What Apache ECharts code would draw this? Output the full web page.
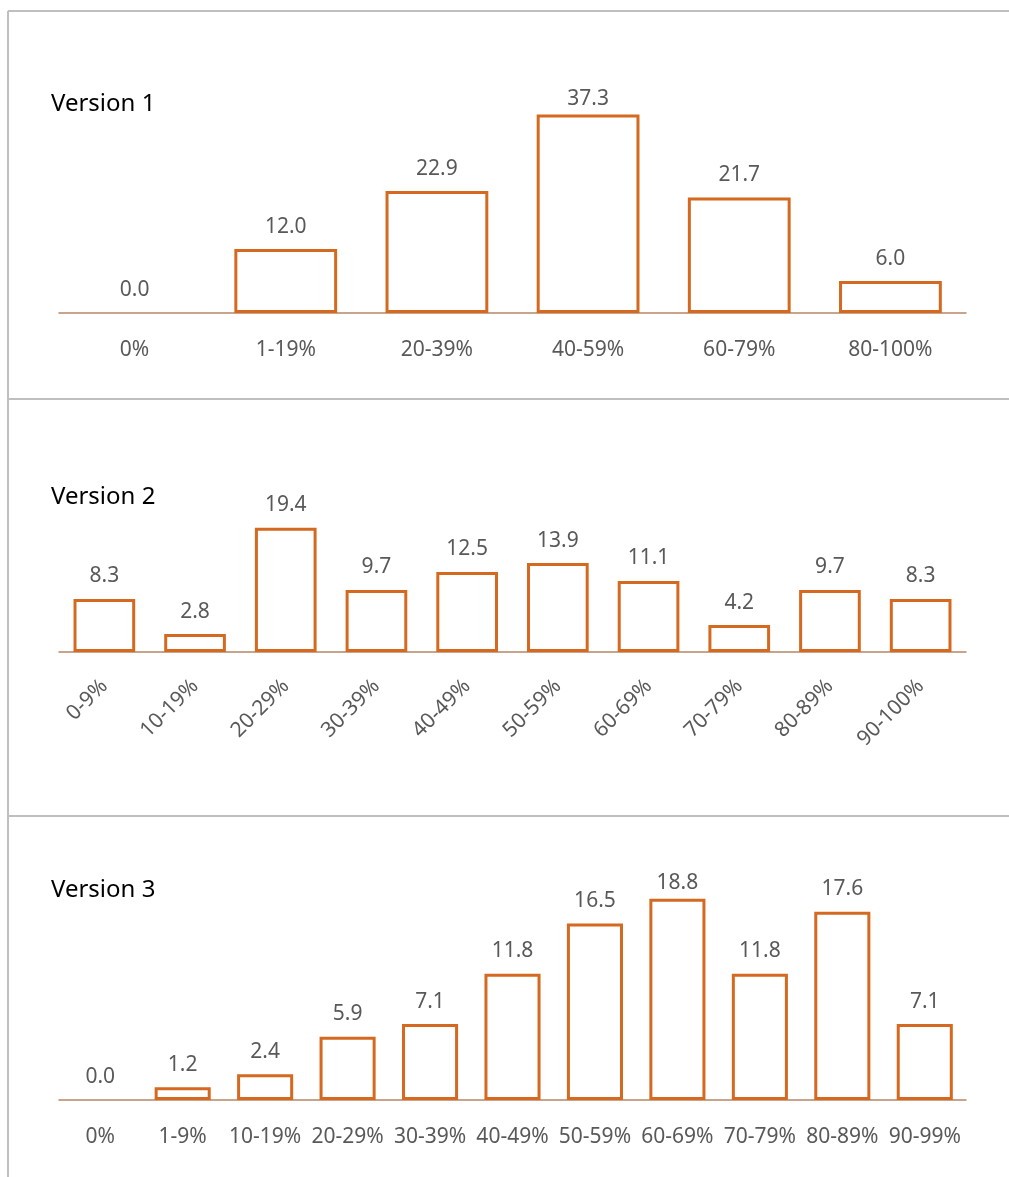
<!DOCTYPE html>
<html>
<head>
<meta charset="utf-8">
<script src="https://cdn.jsdelivr.net/npm/echarts@6/dist/echarts.min.js"></script>
<style>
  html, body { margin: 0; padding: 0; background: #ffffff; }
  #chart { width: 1009px; height: 1177px; }
</style>
</head>
<body>
<div id="chart"></div>
<script>
// Share of respondents per score band, three survey versions
const titles = ['Version 1', 'Version 2', 'Version 3'];

const v1Categories = ['0%', '1-19%', '20-39%', '40-59%', '60-79%', '80-100%'];
const v1Values = [0.0, 12.0, 22.9, 37.3, 21.7, 6.0];

const v2Categories = ['0-9%', '10-19%', '20-29%', '30-39%', '40-49%', '50-59%', '60-69%', '70-79%', '80-89%', '90-100%'];
const v2Values = [8.3, 2.8, 19.4, 9.7, 12.5, 13.9, 11.1, 4.2, 9.7, 8.3];

const v3Categories = ['0%', '1-9%', '10-19%', '20-29%', '30-39%', '40-49%', '50-59%', '60-69%', '70-79%', '80-89%', '90-99%'];
const v3Values = [0.0, 1.2, 2.4, 5.9, 7.1, 11.8, 16.5, 18.8, 11.8, 17.6, 7.1];

const BAR = '#d4691f';
const AXIS = '#b58765';
const TEXT = '#595959';
const FONT = '"Noto Sans", "Open Sans", sans-serif';
const BORDER = '#bfbfbf';

// panel geometry: plot top/bottom and y max
const panels = [
  { cats: v1Categories, vals: v1Values, top: 100, bottom: 313, max: 40, rotate: 0, titleY: 92, tallest: 37.3 },
  { cats: v2Categories, vals: v2Values, top: 524, bottom: 652, max: 20, rotate: 45, titleY: 485, tallest: null },
  { cats: v3Categories, vals: v3Values, top: 886, bottom: 1100, max: 20, rotate: 0, titleY: 878, tallest: 18.8 }
];

const H = 1177;
const grid = [], xAxis = [], yAxis = [], series = [], title = [];

panels.forEach((p, i) => {
  grid.push({ left: 59, right: 43, top: p.top, bottom: H - p.bottom, containLabel: false });
  title.push({
    text: titles[i], left: 51, top: p.titleY, padding: 0,
    textStyle: { fontFamily: FONT, fontSize: 24, fontWeight: 'normal', color: '#000000' }
  });
  xAxis.push({
    type: 'category', gridIndex: i, data: p.cats,
    axisLine: { lineStyle: { color: AXIS, width: 1.5 } },
    axisTick: { show: false },
    axisLabel: {
      color: TEXT, fontFamily: FONT, fontSize: 21,
      margin: p.rotate ? 31 : 27, rotate: p.rotate, interval: 0
    }
  });
  yAxis.push({
    type: 'value', gridIndex: i, min: 0, max: p.max,
    show: false, splitLine: { show: false }
  });
  series.push({
    type: 'bar', xAxisIndex: i, yAxisIndex: i,
    barCategoryGap: '32%',
    data: p.vals.map(v => {
      const item = { value: v };
      // an empty band has no outline, only its value label
      if (v === 0) item.itemStyle = { borderWidth: 0, color: 'transparent' };
      if (v === p.tallest) item.label = { distance: 5 };
      return item;
    }),
    itemStyle: { color: '#ffffff', borderColor: BAR, borderWidth: 3 },
    label: {
      show: true, position: 'top', distance: 12,
      color: TEXT, fontFamily: FONT, fontSize: 21,
      formatter: d => d.value.toFixed(1)
    },
    silent: true
  });
});

// panel frame lines
const lineStyle = { stroke: BORDER, lineWidth: 2 };
const graphic = [
  { type: 'line', shape: { x1: 8, y1: 11, x2: 1009, y2: 11 }, style: lineStyle, silent: true },
  { type: 'line', shape: { x1: 8, y1: 11, x2: 8, y2: 1177 }, style: lineStyle, silent: true },
  { type: 'line', shape: { x1: 8, y1: 399, x2: 1009, y2: 399 }, style: lineStyle, silent: true },
  { type: 'line', shape: { x1: 8, y1: 816, x2: 1009, y2: 816 }, style: lineStyle, silent: true }
];

const chart = echarts.init(document.getElementById('chart'), null, { renderer: 'canvas' });
chart.setOption({
  animation: false,
  backgroundColor: '#ffffff',
  title, grid, xAxis, yAxis, series, graphic
});
</script>
</body>
</html>
